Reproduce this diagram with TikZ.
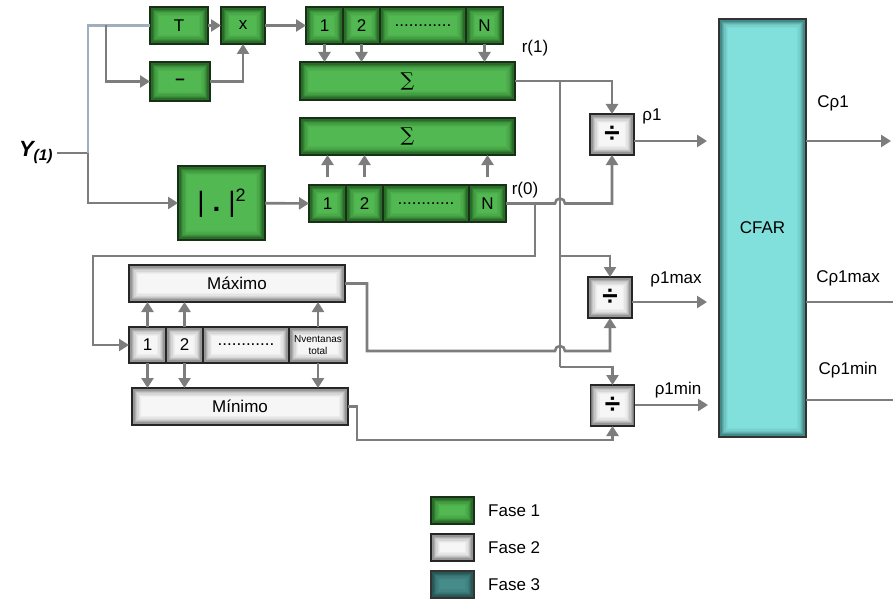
\documentclass[tikz,border=0pt]{standalone}
\usepackage{fontspec}
\setmainfont{Liberation Sans}
\newfontfamily\symfont{DejaVu Serif}
\usetikzlibrary{arrows.meta, positioning}

\definecolor{gin}{RGB}{82,184,82}
\definecolor{gout}{RGB}{26,84,26}
\definecolor{win}{RGB}{246,246,246}
\definecolor{wout}{RGB}{120,120,120}
\definecolor{tin}{RGB}{130,224,220}
\definecolor{tout}{RGB}{46,110,108}
\definecolor{din}{RGB}{70,140,138}
\definecolor{dout}{RGB}{30,72,70}
\definecolor{lgray}{RGB}{125,125,125}
\definecolor{bgray}{RGB}{160,174,190}

\tikzset{
    glow/.style 2 args={fill=#2, path picture={
        \foreach \k [evaluate=\k as \p using {int(100*(1-\k/8)^2)}] in {1,...,8}
            \fill[#2!\p!#1] ([xshift=\k*1.3pt, yshift=\k*1.3pt]path picture bounding box.south west)
                rectangle ([xshift=-\k*1.3pt, yshift=-\k*1.3pt]path picture bounding box.north east);
    }}
}

\begin{document}
\begin{tikzpicture}[x=1pt, y=-1pt,
        blk/.style={rectangle, line width=1.2pt, inner sep=0pt, outer sep=0pt, align=center, font=\fontsize{17}{20}\selectfont},
        gb/.style={blk, glow={gin}{gout}, draw={rgb,255:red,24;green,48;blue,24}},
        wb/.style={blk, glow={win}{wout}, draw=black!85},
        tb/.style={blk, glow={tin}{tout}, draw=black!80},
        cg/.style={gb, minimum width=37, minimum height=37},
        cw/.style={wb, minimum width=37, minimum height=36},
        db/.style={wb, minimum width=44, minimum height=41, font=\fontsize{28}{30}\selectfont\bfseries},
        arr/.style={-{Triangle[length=10pt,width=12pt]}, line width=2.6pt, draw=lgray},
        ln/.style={line width=2.6pt, draw=lgray},
        lbl/.style={inner sep=0pt, font=\fontsize{17}{20}\selectfont}
    ]
        \useasboundingbox (0,0) rectangle (893,599);

        % input
        \node[inner sep=0pt] (yin) at (36,153) {\fontsize{22}{24}\selectfont\bfseries\itshape Y\textsubscript{(1)}};

        % fase 1
        \node[gb, minimum width=58, minimum height=37] (t) at (179,25.5) {T};
        \node[gb, minimum width=44, minimum height=37] (x) at (243,25.5) {x};
        \node[gb, minimum width=60, minimum height=39] (mn) at (180,81.5) {\bfseries –};
        \node[gb, minimum width=87, minimum height=74] (sq) at (221.5,203) {{\fontsize{28}{30}\selectfont |\hspace{8pt}\textbf{.}\hspace{8pt}|}\raisebox{10pt}{\fontsize{18}{20}\selectfont 2}};

        \node[cg] (a1) at (324.5,25.5) {1};
        \node[cg, right=0pt of a1] (a2) {2};
        \node[cg, minimum width=86, right=0pt of a2] (a3) {............};
        \node[cg, right=0pt of a3] (a4) {N};

        \node[gb, minimum width=215, minimum height=38] (s1) at (407.5,81) {\fontsize{19}{20}\symfont ∑};
        \node[gb, minimum width=215, minimum height=37] (s2) at (407.5,136.5) {\fontsize{19}{20}\symfont ∑};

        \node[cg] (b1) at (327.5,203.5) {1};
        \node[cg, right=0pt of b1] (b2) {2};
        \node[cg, minimum width=86, right=0pt of b2] (b3) {............};
        \node[cg, right=0pt of b3] (b4) {N};

        % fase 2
        \node[wb, minimum width=216, minimum height=37] (mx) at (237,283.5) {Máximo};
        \node[cw] (m1) at (147.5,345) {1};
        \node[cw, right=0pt of m1] (m2) {2};
        \node[cw, minimum width=86, right=0pt of m2] (m3) {............};
        \node[cw, minimum width=58, right=0pt of m3, font=\fontsize{10}{12}\selectfont] (m4) {Nventanas\\total};
        \node[wb, minimum width=216, minimum height=37] (mi) at (240,406.5) {Mínimo};

        \node[db] (d1) at (612,134.5) {÷};
        \node[db] (d2) at (610,297.5) {÷};
        \node[db] (d3) at (612.5,405.5) {÷};

        % fase 3
        \node[tb, minimum width=87, minimum height=418] (cf) at (762.5,228) {CFAR};

        % labels
        \node[lbl] (r1) at (535,48) {r(1)};
        \node[lbl] (r0) at (525,190) {r(0)};
        \node[lbl] (l1) at (652,116) {ρ1};
        \node[lbl] (l2) at (676,279) {ρ1max};
        \node[lbl] (l3) at (678,390) {ρ1min};
        \node[lbl] (c1) at (833,103) {Cρ1};
        \node[lbl] (c2) at (848,278) {Cρ1max};
        \node[lbl] (c3) at (848,370) {Cρ1min};

        % helper points
        \coordinate (sp) at (88,153);
        \coordinate (bt) at (106,25.5);
        \coordinate (j1) at (560,81);
        \coordinate (j2) at (560,256);
        \coordinate (j3) at (560,367);
        \coordinate (h1) at (555,203.5);
        \coordinate (h2) at (555,351);
        \coordinate (v0) at (535,203.5);
        \coordinate (k0) at (93,256);
        \coordinate (k1) at (367,351);
        \coordinate (k2) at (357,440);
        \coordinate (p1) at (707,141);
        \coordinate (p2) at (707,302);
        \coordinate (p3) at (708,405);
        \coordinate (q1) at (891,141);
        \coordinate (q2) at (893,302);
        \coordinate (q3) at (893,400);

        % connectors
        \draw[ln] (yin.east) ++(4,0) -- (sp);
        \draw[ln, draw=bgray] (sp) |- (t.west);
        \draw[arr] (bt) |- (mn.west);
        \draw[arr] (sp) |- (sq.west);
        \draw[arr] (t) -- (x);
        \draw[arr] (mn.east) -| (x.south);
        \draw[arr] (x) -- (a1);
        \draw[arr] (sq) -- (b1);
        \foreach \c in {a1,a2,a4}
            \draw[arr] (\c.south) -- (\c.south |- s1.north);
        \foreach \c in {b1,b2,b4}
            \draw[arr] (\c.north) ++(0,-8) -- (\c.north |- s2.south);
        \foreach \c in {m1,m2,m4}
            \draw[arr] (\c.north) -- (\c.north |- mx.south);
        \foreach \c in {m1,m2,m4}
            \draw[arr] (\c.south) -- (\c.south |- mi.north);

        \draw[arr] (s1.east) -| (d1.north);
        \draw[ln] (j1) -- (j3);
        \draw[arr] (j2) -| (d2.north);
        \draw[arr] (j3) -| (d3.north);
        \draw[arr] (b4.east) -- (h1) arc[start angle=180, end angle=360, radius=5] -| (d1.south);
        \draw[arr] (v0) |- (k0) |- (m1.west);
        \draw[arr] (mx.east) -| (k1) -- (h2) arc[start angle=180, end angle=360, radius=5] -| (d2.south);
        \draw[arr] (mi.east) -| (k2) -| (d3.south);

        \draw[arr] (d1.east |- p1) -- (p1);
        \draw[arr] (d2.east |- p2) -- (p2);
        \draw[arr] (d3.east |- p3) -- (p3);
        \draw[arr] (cf.east |- q1) -- (q1);
        \draw[ln] (cf.east |- q2) -- (q2);
        \draw[ln] (cf.east |- q3) -- (q3);

        % legend
        \node[gb, minimum width=43, minimum height=27] (f1) at (452.5,510.5) {};
        \node[wb, minimum width=43, minimum height=27] (f2) at (452.5,547.5) {};
        \node[blk, glow={din}{dout}, draw=black!80, minimum width=43, minimum height=27] (f3) at (452.5,584.5) {};
        \node[lbl, right=14pt of f1] (n1) {Fase 1};
        \node[lbl, right=14pt of f2] (n2) {Fase 2};
        \node[lbl, right=14pt of f3] (n3) {Fase 3};
    \end{tikzpicture}
\end{document}
